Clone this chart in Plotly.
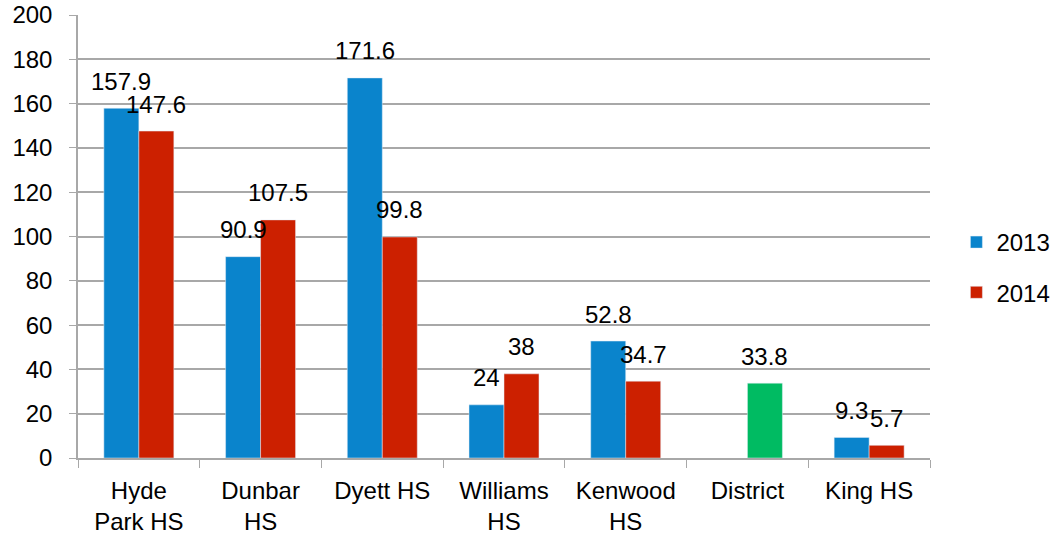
import plotly.graph_objects as go

escuelas = ["Hyde<br>Park HS", "Dunbar<br>HS", "Dyett HS", "Williams<br>HS", "Kenwood<br>HS", "District", "King HS"]
valores_2013 = [157.9, 90.9, 171.6, 24, 52.8, None, 9.3]
valores_2014 = [147.6, 107.5, 99.8, 38, 34.7, 33.8, 5.7]

azul = "#0A84CC"
rojo = "#CC2000"
verde = "#00BB62"
colores_2014 = [verde if e == "District" else rojo for e in escuelas]

fuente = dict(family="Liberation Sans, Arial, sans-serif", size=24, color="#000000")

fig = go.Figure()
fig.add_trace(go.Bar(x=escuelas, y=valores_2013, name="2013", marker_color=azul, legendgroup="a"))
fig.add_trace(go.Bar(x=escuelas, y=valores_2014, name="2014", marker_color=colores_2014, legendgroup="b"))

# etiquetas de datos sobre cada barra
anotaciones = []
for serie, desplaz in [(valores_2013, -17.5), (valores_2014, 17.5)]:
    for e, v in zip(escuelas, serie):
        if v is None:
            continue
        anotaciones.append(dict(x=e, y=v, xref="x", yref="y", text=str(v), showarrow=False,
                                xshift=desplaz, yshift=27, yanchor="middle", font=fuente))

fig.update_layout(
    barmode="group",
    bargap=0.425,
    bargroupgap=0,
    width=1055, height=537,
    margin=dict(l=78, r=125, t=15, b=79, autoexpand=False),
    plot_bgcolor="white", paper_bgcolor="white",
    font=fuente,
    annotations=anotaciones,
    legend=dict(x=1.031, y=0.43, yanchor="middle", xanchor="left", font=fuente,
                bgcolor="rgba(0,0,0,0)", itemwidth=30, traceorder="grouped", tracegroupgap=16),
    showlegend=True,
)
fig.update_yaxes(range=[0, 200], dtick=20, showgrid=True, gridcolor="#A8A8A8", gridwidth=1.5,
                 showline=True, linecolor="#A8A8A8", linewidth=1.5, ticks="outside", ticklen=7,
                 tickcolor="#A8A8A8", tickfont=fuente, zeroline=False, automargin=False,
                 ticklabeloverflow="allow", ticklabelstandoff=12)
fig.update_xaxes(showline=True, linecolor="#A8A8A8", linewidth=1.5, ticks="outside", ticklen=8,
                 tickcolor="#A8A8A8", tickson="boundaries", tickfont=fuente, showgrid=False,
                 automargin=False, ticklabeloverflow="allow", ticklabelstandoff=10)

# sin margen de la página para que la figura empiece en la esquina
fig.write_html("out.html", config={"displayModeBar": False},
               post_script="document.body.style.margin='0';document.body.style.overflow='hidden';")
